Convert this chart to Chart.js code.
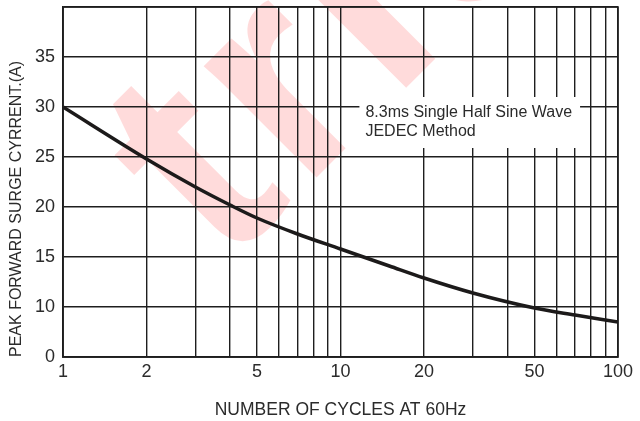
<!DOCTYPE html>
<html>
<head>
<meta charset="utf-8">
<script src="https://cdn.jsdelivr.net/npm/chart.js@4/dist/chart.umd.min.js"></script>
<style>
  html, body { margin: 0; padding: 0; background: #fff; }
  #wrap { width: 640px; height: 421px; position: relative; }
</style>
</head>
<body>
<div id="wrap"><canvas id="surge_chart"></canvas></div>
<script>
// number of cycles (x) and peak surge current in A (y)
const cycles = [1, 2, 3, 4, 5, 7, 10, 15, 20, 30, 50, 70, 100];
const surge_current = [30, 24.8, 22.0, 20.2, 18.9, 17.3, 15.8, 14.1, 12.9, 11.4, 9.9, 9.2, 8.5];

const x_grid_values = [1, 2, 3, 4, 5, 6, 7, 8, 9, 10, 20, 30, 40, 50, 60, 70, 80, 90, 100];
const x_tick_labels = [1, 2, 5, 10, 20, 50, 100];
const y_tick_labels = { 5: '0', 10: '10', 15: '15', 20: '20', 25: '25', 30: '30', 35: '35', 40: '' };

const note_lines = ['8.3ms Single Half Sine Wave', 'JEDEC Method'];
const watermark_text = 'tric';

const ink = '#2b2b2b';
const grid_color = '#1e1e1e';

const watermark = {
  id: 'watermark',
  beforeDraw(chart) {
    const ctx = chart.ctx;
    ctx.save();
    ctx.fillStyle = 'rgba(255, 0, 0, 0.14)';
    ctx.font = 'bold 300px "Liberation Sans", Arial, sans-serif';
    ctx.letterSpacing = '10px';
    ctx.translate(224, 270);
    ctx.rotate(-Math.PI / 4);
    ctx.textBaseline = 'alphabetic';
    ctx.fillText(watermark_text, 0, 0);
    ctx.restore();
  }
};

const note_box = {
  id: 'note_box',
  afterDatasetsDraw(chart) {
    const ctx = chart.ctx;
    const xs = chart.scales.x, ys = chart.scales.y;
    const left = xs.getPixelForValue(11.7);
    const right = xs.getPixelForValue(73);
    const top = ys.getPixelForValue(31);
    const bottom = ys.getPixelForValue(25.9);
    ctx.save();
    ctx.fillStyle = '#fff';
    ctx.fillRect(left, top, right - left, bottom - top);
    ctx.fillStyle = ink;
    ctx.font = '16px "Liberation Sans", Arial, sans-serif';
    ctx.textBaseline = 'middle';
    ctx.textAlign = 'left';
    ctx.fillText(note_lines[0], left + 6, ys.getPixelForValue(29.4));
    ctx.fillText(note_lines[1], left + 6, ys.getPixelForValue(27.5));
    ctx.restore();
  }
};

// closed frame round the plot area
const frame = {
  id: 'frame',
  afterDraw(chart) {
    const a = chart.chartArea, ctx = chart.ctx;
    ctx.save();
    ctx.strokeStyle = grid_color;
    ctx.lineWidth = 1.6;
    ctx.strokeRect(a.left, a.top, a.right - a.left, a.bottom - a.top);
    ctx.restore();
  }
};

const surge_ctx = document.getElementById('surge_chart');

const surge_config = {
  type: 'line',
  data: {
    datasets: [{
      data: cycles.map((c, i) => ({ x: c, y: surge_current[i] })),
      borderColor: '#1c1a1a',
      borderWidth: 3.5,
      pointRadius: 0,
      cubicInterpolationMode: 'monotone',
      fill: false
    }]
  },
  options: {
    responsive: true,
    maintainAspectRatio: false,
    animation: false,
    events: [],
    layout: { padding: { top: 7, right: 22, left: 0, bottom: 0 } },
    plugins: {
      legend: { display: false },
      tooltip: { enabled: false }
    },
    scales: {
      x: {
        type: 'logarithmic',
        min: 1,
        max: 100,
        afterBuildTicks: s => { s.ticks = x_grid_values.map(v => ({ value: v })); },
        afterFit: s => { s.height = 64; s.paddingLeft = 0; s.paddingRight = 0; },
        grid: { color: grid_color, lineWidth: 1.4, drawTicks: false },
        border: { color: grid_color, width: 1.6 },
        ticks: {
          autoSkip: false,
          maxRotation: 0,
          padding: 4,
          color: ink,
          font: { family: '"Liberation Sans", Arial, sans-serif', size: 18 },
          callback: v => x_tick_labels.includes(v) ? String(v) : ''
        },
        title: {
          display: true,
          text: 'NUMBER OF CYCLES AT 60Hz',
          color: ink,
          font: { family: '"Liberation Sans", Arial, sans-serif', size: 17.5 },
          padding: { top: 0, bottom: 0 }
        }
      },
      y: {
        min: 5,
        max: 40,
        ticks: {
          stepSize: 5,
          padding: 8,
          color: ink,
          font: { family: '"Liberation Sans", Arial, sans-serif', size: 18 },
          callback: v => y_tick_labels[v] !== undefined ? y_tick_labels[v] : ''
        },
        afterFit: s => { s.width = 63; s.paddingTop = 0; s.paddingBottom = 0; },
        grid: { color: grid_color, lineWidth: 1.4, drawTicks: false },
        border: { color: grid_color, width: 1.6 },
        title: {
          display: true,
          text: 'PEAK FORWARD SURGE CYRRENT.(A)',
          align: 'start',
          color: ink,
          font: { family: '"Liberation Sans", Arial, sans-serif', size: 16 },
          padding: { top: 7, bottom: 0 }
        }
      }
    }
  },
  plugins: [watermark, note_box, frame]
};

const surge_chart = new Chart(surge_ctx, surge_config);
</script>
</body>
</html>
